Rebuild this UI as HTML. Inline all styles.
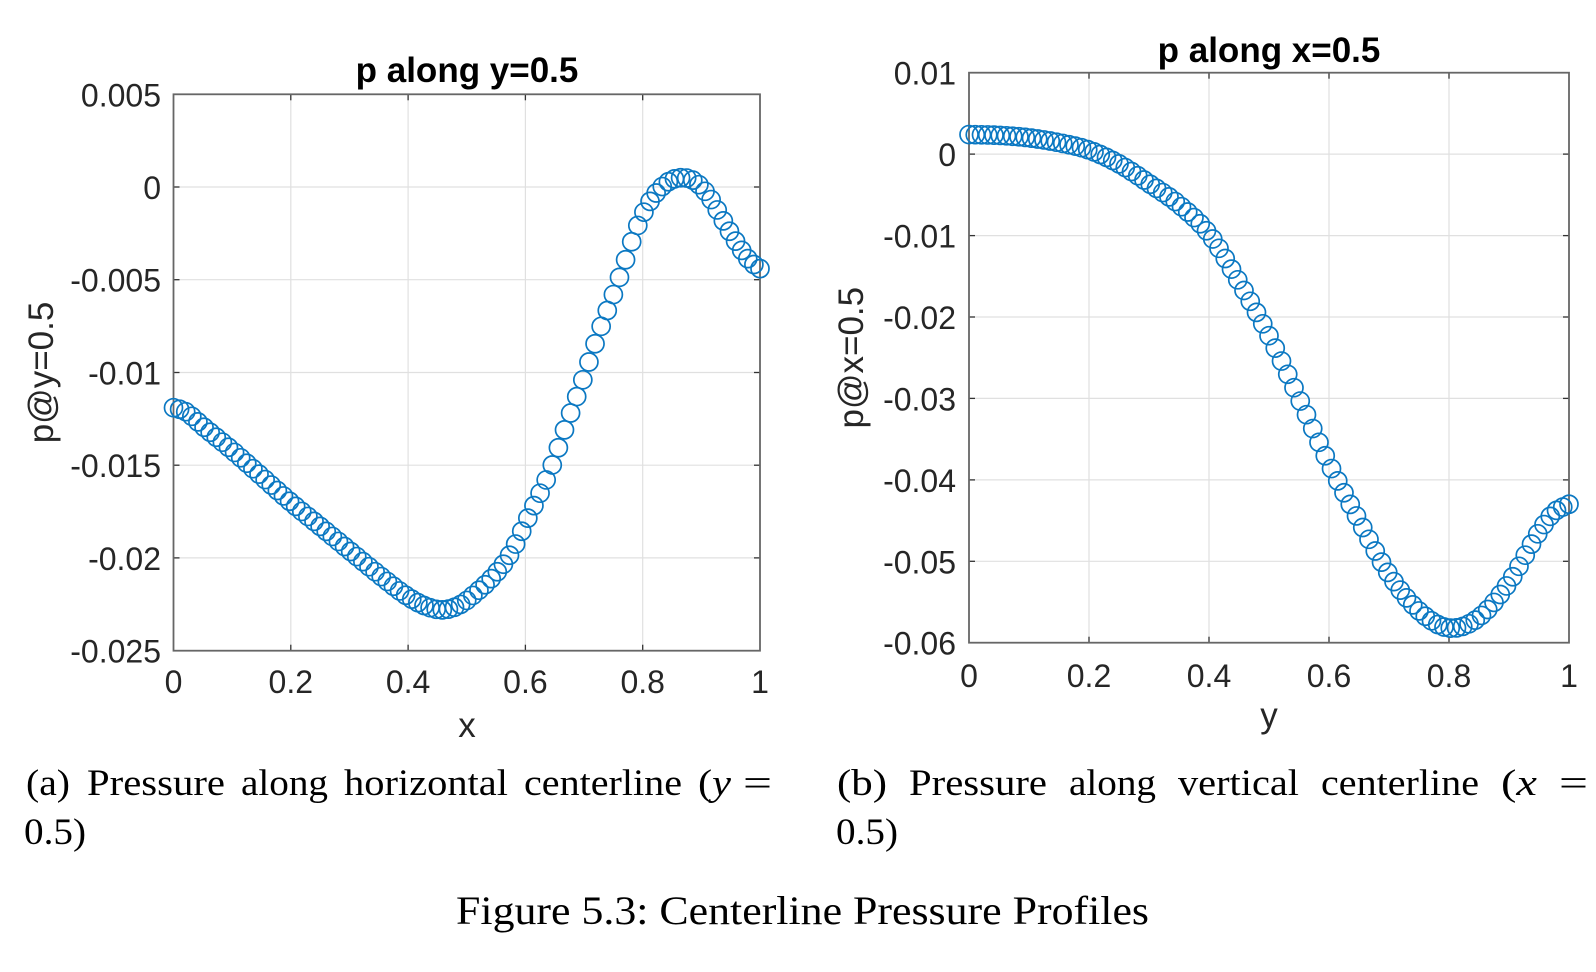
<!DOCTYPE html>
<html><head><meta charset="utf-8">
<style>
html,body{margin:0;padding:0;background:#fff;}
svg{display:block}
.t{font-family:"Liberation Sans",Arial,sans-serif;font-size:32px;fill:#262626}
.lab{font-family:"Liberation Sans",Arial,sans-serif;font-size:35px;fill:#262626}
.ttl{font-family:"Liberation Sans",Arial,sans-serif;font-size:35px;font-weight:bold;fill:#000}
.cap{font-family:"Liberation Serif","DejaVu Serif",serif;font-size:37px;fill:#000}
.fcap{font-family:"Liberation Serif","DejaVu Serif",serif;font-size:40px;fill:#000}
.grid line{stroke:#e0e0e0;stroke-width:1.2}
.ax{fill:none;stroke:#666;stroke-width:1.8}
.tk line{stroke:#333;stroke-width:1.3}
</style></head><body>
<svg id="s" width="1596" height="972" viewBox="0 0 1596 972" xmlns="http://www.w3.org/2000/svg">
<rect width="1596" height="972" fill="#fff"/>

<!-- LEFT PLOT -->
<g class="grid">
<line x1="290.8" y1="94.3" x2="290.8" y2="650.7"/>
<line x1="408.1" y1="94.3" x2="408.1" y2="650.7"/>
<line x1="525.4" y1="94.3" x2="525.4" y2="650.7"/>
<line x1="642.7" y1="94.3" x2="642.7" y2="650.7"/>
<line x1="173.5" y1="187.0" x2="760" y2="187.0"/>
<line x1="173.5" y1="279.7" x2="760" y2="279.7"/>
<line x1="173.5" y1="372.5" x2="760" y2="372.5"/>
<line x1="173.5" y1="465.2" x2="760" y2="465.2"/>
<line x1="173.5" y1="557.9" x2="760" y2="557.9"/>
</g>
<g class="tk">
<line x1="290.8" y1="650.7" x2="290.8" y2="644.7"/><line x1="408.1" y1="650.7" x2="408.1" y2="644.7"/><line x1="525.4" y1="650.7" x2="525.4" y2="644.7"/><line x1="642.7" y1="650.7" x2="642.7" y2="644.7"/>
<line x1="290.8" y1="94.3" x2="290.8" y2="100.3"/><line x1="408.1" y1="94.3" x2="408.1" y2="100.3"/><line x1="525.4" y1="94.3" x2="525.4" y2="100.3"/><line x1="642.7" y1="94.3" x2="642.7" y2="100.3"/>
<line x1="173.5" y1="187.0" x2="179.5" y2="187.0"/><line x1="173.5" y1="279.7" x2="179.5" y2="279.7"/><line x1="173.5" y1="372.5" x2="179.5" y2="372.5"/><line x1="173.5" y1="465.2" x2="179.5" y2="465.2"/><line x1="173.5" y1="557.9" x2="179.5" y2="557.9"/>
<line x1="760" y1="187.0" x2="754" y2="187.0"/><line x1="760" y1="279.7" x2="754" y2="279.7"/><line x1="760" y1="372.5" x2="754" y2="372.5"/><line x1="760" y1="465.2" x2="754" y2="465.2"/><line x1="760" y1="557.9" x2="754" y2="557.9"/>
</g>
<rect class="ax" x="173.5" y="94.3" width="586.5" height="556.4"/>
<g class="t" text-anchor="end">
<text x="161" y="106.3">0.005</text>
<text x="161" y="199">0</text>
<text x="161" y="291.7">-0.005</text>
<text x="161" y="384.5">-0.01</text>
<text x="161" y="477.2">-0.015</text>
<text x="161" y="569.9">-0.02</text>
<text x="161" y="662.7">-0.025</text>
</g>
<g class="t" text-anchor="middle">
<text x="173.5" y="693">0</text>
<text x="290.8" y="693">0.2</text>
<text x="408.1" y="693">0.4</text>
<text x="525.4" y="693">0.6</text>
<text x="642.7" y="693">0.8</text>
<text x="760" y="693">1</text>
</g>
<text class="ttl" x="467" y="82" text-anchor="middle">p along y=0.5</text>
<text class="lab" x="467" y="737" text-anchor="middle">x</text>
<text class="lab" text-anchor="middle" transform="translate(53,372.5) rotate(-90)">p@y=0.5</text>

<!-- RIGHT PLOT -->
<g class="grid">
<line x1="1089" y1="72.7" x2="1089" y2="642.7"/>
<line x1="1209" y1="72.7" x2="1209" y2="642.7"/>
<line x1="1329" y1="72.7" x2="1329" y2="642.7"/>
<line x1="1449" y1="72.7" x2="1449" y2="642.7"/>
<line x1="969" y1="154.1" x2="1569" y2="154.1"/>
<line x1="969" y1="235.6" x2="1569" y2="235.6"/>
<line x1="969" y1="317.0" x2="1569" y2="317.0"/>
<line x1="969" y1="398.4" x2="1569" y2="398.4"/>
<line x1="969" y1="479.9" x2="1569" y2="479.9"/>
<line x1="969" y1="561.3" x2="1569" y2="561.3"/>
</g>
<g class="tk">
<line x1="1089" y1="642.7" x2="1089" y2="636.7"/><line x1="1209" y1="642.7" x2="1209" y2="636.7"/><line x1="1329" y1="642.7" x2="1329" y2="636.7"/><line x1="1449" y1="642.7" x2="1449" y2="636.7"/>
<line x1="1089" y1="72.7" x2="1089" y2="78.7"/><line x1="1209" y1="72.7" x2="1209" y2="78.7"/><line x1="1329" y1="72.7" x2="1329" y2="78.7"/><line x1="1449" y1="72.7" x2="1449" y2="78.7"/>
<line x1="969" y1="154.1" x2="975" y2="154.1"/><line x1="969" y1="235.6" x2="975" y2="235.6"/><line x1="969" y1="317.0" x2="975" y2="317.0"/><line x1="969" y1="398.4" x2="975" y2="398.4"/><line x1="969" y1="479.9" x2="975" y2="479.9"/><line x1="969" y1="561.3" x2="975" y2="561.3"/>
<line x1="1569" y1="154.1" x2="1563" y2="154.1"/><line x1="1569" y1="235.6" x2="1563" y2="235.6"/><line x1="1569" y1="317.0" x2="1563" y2="317.0"/><line x1="1569" y1="398.4" x2="1563" y2="398.4"/><line x1="1569" y1="479.9" x2="1563" y2="479.9"/><line x1="1569" y1="561.3" x2="1563" y2="561.3"/>
</g>
<rect class="ax" x="969" y="72.7" width="600" height="570"/>
<g class="t" text-anchor="end">
<text x="956" y="84.7">0.01</text>
<text x="956" y="166.1">0</text>
<text x="956" y="247.6">-0.01</text>
<text x="956" y="329">-0.02</text>
<text x="956" y="410.4">-0.03</text>
<text x="956" y="491.9">-0.04</text>
<text x="956" y="573.3">-0.05</text>
<text x="956" y="654.7">-0.06</text>
</g>
<g class="t" text-anchor="middle">
<text x="969" y="687">0</text>
<text x="1089" y="687">0.2</text>
<text x="1209" y="687">0.4</text>
<text x="1329" y="687">0.6</text>
<text x="1449" y="687">0.8</text>
<text x="1569" y="687">1</text>
</g>
<text class="ttl" x="1269" y="62" text-anchor="middle">p along x=0.5</text>
<text class="lab" x="1269" y="727" text-anchor="middle">y</text>
<text class="lab" text-anchor="middle" transform="translate(863,357.7) rotate(-90)">p@x=0.5</text>

<g id="sL" fill="none" stroke="#0b78c2" stroke-width="1.7"></g>
<g id="sR" fill="none" stroke="#0b78c2" stroke-width="1.7"></g>

<!-- CAPTIONS -->
<g class="cap">
<text x="26" y="795" textLength="44" lengthAdjust="spacingAndGlyphs">(a)</text>
<text x="87" y="795" textLength="138" lengthAdjust="spacingAndGlyphs">Pressure</text>
<text x="241" y="795" textLength="87" lengthAdjust="spacingAndGlyphs">along</text>
<text x="344" y="795" textLength="164" lengthAdjust="spacingAndGlyphs">horizontal</text>
<text x="524" y="795" textLength="158" lengthAdjust="spacingAndGlyphs">centerline</text>
<text x="698" y="795" textLength="33" lengthAdjust="spacingAndGlyphs">(<tspan font-style="italic">y</tspan></text>
<text x="743" y="795" textLength="29" lengthAdjust="spacingAndGlyphs">=</text>
<text x="24" y="844" textLength="62" lengthAdjust="spacingAndGlyphs">0.5)</text>

<text x="837" y="795" textLength="50" lengthAdjust="spacingAndGlyphs">(b)</text>
<text x="909" y="795" textLength="138" lengthAdjust="spacingAndGlyphs">Pressure</text>
<text x="1069" y="795" textLength="87" lengthAdjust="spacingAndGlyphs">along</text>
<text x="1178" y="795" textLength="121" lengthAdjust="spacingAndGlyphs">vertical</text>
<text x="1321" y="795" textLength="158" lengthAdjust="spacingAndGlyphs">centerline</text>
<text x="1501" y="795" textLength="36" lengthAdjust="spacingAndGlyphs">(<tspan font-style="italic">x</tspan></text>
<text x="1559" y="795" textLength="29" lengthAdjust="spacingAndGlyphs">=</text>
<text x="836" y="844" textLength="62" lengthAdjust="spacingAndGlyphs">0.5)</text>
</g>
<text class="fcap" x="456" y="924" textLength="693" lengthAdjust="spacingAndGlyphs">Figure 5.3: Centerline Pressure Profiles</text>
</svg>
<script>
(function(){
function mk(p){var n=p.length,m=[];for(var i=0;i<n;i++){if(i==0)m[i]=(p[1][1]-p[0][1])/(p[1][0]-p[0][0]);else if(i==n-1)m[i]=(p[n-1][1]-p[n-2][1])/(p[n-1][0]-p[n-2][0]);else m[i]=((p[i+1][1]-p[i][1])/(p[i+1][0]-p[i][0])+(p[i][1]-p[i-1][1])/(p[i][0]-p[i-1][0]))/2;}
return function(x){var i=0;while(i<n-2&&x>p[i+1][0])i++;var x0=p[i][0],x1=p[i+1][0],h=x1-x0,t=(x-x0)/h,t2=t*t,t3=t2*t;return (2*t3-3*t2+1)*p[i][1]+(t3-2*t2+t)*h*m[i]+(-2*t3+3*t2)*p[i+1][1]+(t3-t2)*h*m[i+1];};}
var L=[[0,-0.0119],[0.02,-0.0121],[0.05,-0.0129],[0.1,-0.0142],[0.15,-0.0156],[0.2,-0.0170],[0.25,-0.0183],[0.3,-0.0196],[0.35,-0.0209],[0.4,-0.0221],[0.43,-0.0226],[0.46,-0.0228],[0.49,-0.0225],[0.515,-0.0219],[0.545,-0.0210],[0.574,-0.0198],[0.605,-0.0178],[0.642,-0.0153],[0.670,-0.0128],[0.699,-0.0103],[0.727,-0.0077],[0.750,-0.0058],[0.770,-0.0040],[0.790,-0.0022],[0.812,-0.0008],[0.840,0.0002],[0.865,0.0005],[0.889,0.0003],[0.915,-0.0006],[0.937,-0.0018],[0.960,-0.0030],[0.983,-0.0040],[1.0,-0.0044]];
var R=[[0,0.0024],[0.05,0.0023],[0.1,0.0020],[0.15,0.0014],[0.2,0.0005],[0.25,-0.0012],[0.3,-0.0036],[0.35,-0.0062],[0.4,-0.0098],[0.45,-0.0157],[0.5,-0.0223],[0.55,-0.0300],[0.6,-0.0380],[0.65,-0.0450],[0.7,-0.0516],[0.75,-0.0561],[0.8,-0.0582],[0.85,-0.0569],[0.9,-0.0526],[0.95,-0.0464],[0.975,-0.0440],[1.0,-0.0430]];
var NS="http://www.w3.org/2000/svg";
function draw(id,pts,N,X0,W,Y0,S){var f=mk(pts),g=document.getElementById(id);for(var i=0;i<=N;i++){var x=i/N,v=f(x);var c=document.createElementNS(NS,"ellipse");c.setAttribute("cx",(X0+x*W).toFixed(2));c.setAttribute("cy",(Y0-v*S).toFixed(2));c.setAttribute("rx","9");c.setAttribute("ry","9");g.appendChild(c);}}
draw("sL",L,96,173.5,586.5,187.0,18546);
draw("sR",R,96,969,600,154.1,8143);
})();
</script>
</body></html>
